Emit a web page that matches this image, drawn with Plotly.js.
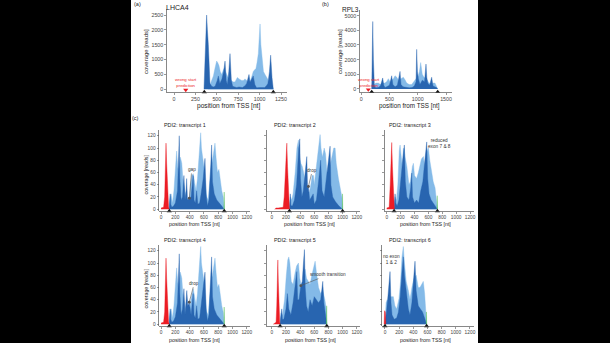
<!DOCTYPE html>
<html><head><meta charset="utf-8">
<script src="https://cdn.plot.ly/plotly-3.0.1.min.js"></script>
<style>html,body{margin:0;padding:0;background:#000;width:610px;height:343px;overflow:hidden}
#chart{position:absolute;left:131px;top:0;width:347px;height:343px;background:#fff}</style>
</head><body><div id="chart"></div>
<script>
// ---------------- data ----------------
// (a) LHCA4
const lhca4_light_x = [400,420,440,460,478,490,498,510,525,540,556,570,584,600,615,640,673,690,712,725,740,760,790,810,829,850,870,887,900,915,926,940,957,970,985,995,1005,1015,1032,1045,1063,1080,1097,1115,1136,1150,1160];
const lhca4_light_y = [0,150,300,450,700,850,950,900,800,600,500,600,700,600,500,350,300,250,250,350,400,350,300,300,350,300,250,200,350,500,600,650,700,900,1200,1700,2200,1500,800,600,500,400,300,250,200,100,0];
const lhca4_dark_x = [350,360,372,381,390,401,420,440,459,480,505,518,535,545,560,580,596,610,623,640,654,670,685,710,732,760,800,830,849,862,876,888,899,912,926,945,965,1000,1040,1058,1080,1097,1115,1129,1145,1160];
const lhca4_dark_y = [0,900,2000,2500,2000,1500,200,100,80,100,300,450,200,250,350,600,950,300,150,600,1200,300,100,80,60,80,60,120,200,350,500,250,300,400,450,150,50,60,50,60,120,200,600,1150,400,0];
const lhca4_marks = [354,1160];
const lhca4_wrong = [137];

// (b) RPL3
const rpl3_light_x = [187,200,234,260,305,340,381,420,450,481,510,540,570,599,630,660,700,746,780,805,850,893,930,952,980,1010,1030,1052,1080,1110,1150,1176,1200,1240,1270,1305,1353];
const rpl3_light_y = [0,300,300,400,400,300,400,400,500,700,500,600,700,900,800,600,700,800,600,400,300,300,500,600,700,900,1200,1800,1000,800,700,500,400,300,400,400,0];
const rpl3_dark_x = [187,193,205,217,234,260,300,340,381,400,422,450,500,540,560,600,640,687,705,740,780,805,850,900,940,970,981,995,1011,1040,1080,1120,1146,1160,1176,1210,1246,1270,1305,1330,1353];
const rpl3_dark_y = [0,3000,4600,2000,200,80,100,200,750,250,100,150,250,900,300,150,250,1200,300,150,120,100,80,100,200,500,2700,1200,700,300,600,500,1700,800,400,250,800,200,150,100,0];
const rpl3_marks = [187,1353];
const rpl3_wrong = [127];

// (c) PDI2 transcript 1
const t1_red_x = [0,15,35,50,60,69,78,90,105,115];
const t1_red_y = [2,3,3,20,70,108,75,30,4,0];
const t1_dark_x = [112,120,128,136,150,175,200,230,245,255,263,280,300,320,335,350,358,370,395,420,450,462,480,498,515,540,560,590,615,630,650,670,695,708,720,745,780,810,850,885];
const t1_dark_y = [0,18,25,8,3,5,10,30,90,120,50,15,20,55,15,30,50,15,18,20,55,15,10,30,8,10,25,50,83,25,5,15,70,105,45,25,15,10,5,0];
const t1_light_x = [112,125,140,160,180,200,218,232,245,270,290,305,330,350,380,395,410,430,450,470,490,510,530,545,555,565,580,600,620,640,660,680,700,720,740,755,770,790,810,830,850,870,885];
const t1_light_y = [0,20,25,10,30,70,95,70,60,85,75,50,35,20,15,10,40,55,58,45,30,50,90,110,125,100,90,70,45,20,15,50,70,80,95,108,85,60,65,45,30,20,0];
const t1_green_x = [880,884,887];
const t1_green_y = [0,28,0];
const t1_marks = [115,885];

// transcript 2
const t2_red_x = [40,60,90,130,160,175,195,212,222,235,248,255];
const t2_red_y = [0,2,2,3,3,20,70,108,70,20,3,0];
const t2_dark_x = [248,255,262,270,290,320,350,380,395,405,425,445,470,494,505,517,535,560,585,600,630,660,690,710,740,780,810,823,835,860,900,950,1000];
const t2_dark_y = [0,20,25,6,5,15,40,100,115,50,20,30,55,86,35,37,15,20,25,8,15,45,80,30,20,60,90,103,40,20,12,5,0];
const t2_light_x = [248,262,280,300,330,355,376,390,410,430,450,470,490,520,545,570,588,600,620,650,665,682,695,715,740,760,780,800,820,850,875,894,910,941,970,990,1000];
const t2_light_y = [0,20,15,25,60,100,113,85,75,70,60,40,30,25,35,55,55,40,60,100,115,122,100,85,100,90,60,50,70,90,100,100,75,50,30,20,0];
const t2_green_x = [995,999,1002];
const t2_green_y = [0,25,0];
const t2_marks = [249,1000];

// transcript 3
const t3_red_x = [0,20,35,50,62,72,82,95,105,110];
const t3_red_y = [2,3,3,40,90,109,70,20,3,0];
const t3_dark_x = [105,112,120,130,150,175,200,230,254,268,290,320,345,360,372,400,430,460,490,520,545,565,576,590,610,640,680,710,730];
const t3_dark_y = [0,15,25,10,5,15,40,80,105,45,20,15,35,59,20,10,15,10,30,45,75,100,110,50,25,15,8,5,0];
const t3_light_x = [105,120,140,160,180,192,205,225,240,252,265,290,320,340,370,384,400,430,456,480,500,528,545,565,590,600,620,648,670,696,715,730];
const t3_light_y = [0,20,15,40,95,105,90,70,100,98,85,70,40,45,70,75,55,50,60,75,82,86,70,90,100,100,80,60,45,35,20,0];
const t3_green_x = [724,728,731];
const t3_green_y = [0,22,0];
const t3_marks = [106,730];

// transcript 4
const t4_red_x = [0,15,35,50,60,69,78,90,105,115];
const t4_red_y = [2,3,3,20,70,108,75,30,4,0];
const t4_dark_x = [112,120,128,136,150,175,200,230,245,255,263,280,300,320,335,350,360,375,395,420,450,462,480,498,515,540,560,590,615,630,650,670,695,708,720,745,780,810,850,885];
const t4_dark_y = [0,18,25,8,3,5,12,35,95,115,50,15,25,58,15,35,55,30,36,15,50,15,10,30,8,10,28,55,85,25,5,15,70,110,45,25,15,10,5,0];
const t4_light_x = [112,125,140,160,180,200,218,232,245,270,290,305,330,350,380,395,410,430,450,470,490,510,530,545,555,565,580,600,620,640,660,680,700,720,740,755,770,790,810,830,850,870,885];
const t4_light_y = [0,20,25,10,30,70,92,70,60,85,75,50,35,20,15,10,35,50,58,45,30,50,90,112,127,100,90,70,45,20,15,50,70,80,95,108,85,60,65,45,30,20,0];
const t4_green_x = [880,884,887];
const t4_green_y = [0,28,0];
const t4_marks = [115,885];

// transcript 5
const t5_red_x = [20,40,60,70,78,85,92,102,112,118];
const t5_red_y = [0,2,3,30,80,105,70,20,3,0];
const t5_dark_x = [115,125,140,150,170,200,220,240,270,300,330,353,365,385,410,430,450,461,472,490,515,540,570,600,630,659,690,710,720,735,760,777];
const t5_dark_y = [0,15,25,8,8,25,50,25,15,35,60,86,40,40,63,70,105,122,60,30,20,40,30,45,40,35,40,55,70,35,10,0];
const t5_light_x = [115,130,150,180,205,225,240,255,275,300,330,350,376,395,420,445,470,490,517,540,565,590,612,630,660,690,720,750,770,777];
const t5_light_y = [0,18,15,40,80,105,110,100,70,65,85,95,100,75,60,70,90,75,70,65,80,95,103,85,60,50,55,40,25,0];
const t5_green_x = [771,775,778];
const t5_green_y = [0,30,0];
const t5_marks = [117,777];

// transcript 6
const t6_red_x = [-12,-6,4,12];
const t6_red_y = [0,22,20,0];
const t6_dark_x = [0,10,25,45,60,71,85,100,130,165,190,215,240,259,275,306,330,353,380,405,424,440,470,500,530,560,588];
const t6_dark_y = [0,15,25,50,75,86,35,15,8,10,20,45,85,110,80,50,25,15,35,75,103,55,30,25,20,10,0];
const t6_light_x = [0,15,30,50,70,95,118,140,165,198,220,240,259,275,300,330,353,380,410,440,470,494,520,541,560,575,588];
const t6_light_y = [0,35,40,35,45,45,45,30,25,42,70,110,127,100,70,55,40,60,75,80,60,60,65,70,50,30,0];
const t6_green_x = [582,586,589];
const t6_green_y = [0,20,0];
const t6_marks = [0,588];

const xticks_a = [0,250,500,750,1000,1250];
const yticks_a = [0,500,1000,1500,2000,2500];
const xticks_b = [0,500,1000,1500];
const yticks_b = [0,1000,2000,3000,4000,5000];
const xticks_c = [0,200,400,600,800,1000,1200];
const yticks_c = [0,20,40,60,80,100,120];

// ---------------- styling ----------------
const FONT = 'Liberation Sans, Arial, sans-serif';
const DARK = '#2865b0', LIGHT = '#84bae8', RED = '#ec1c24', GREEN = '#5cc060';
const W0 = 131, W = 347, H = 343;
const pxX = p => (p - W0) / W;
const pxY = p => 1 - p / H;

const panels = [
  {xr:[-82,1320], xd:[167,287], yr:[-90,2700], yd:[92,9.1], xt:xticks_a, yt:yticks_a, lab:true, fs:5.3},
  {xr:[-20,1600], xd:[360,451.7], yr:[-200,5400], yd:[91.9,9.8], xt:xticks_b, yt:yticks_b, lab:true, fs:5.3},
  {xr:[-25,1240], xd:[159.3,249.6], yr:[-3,130], yd:[211,129.7], xt:xticks_c, yt:yticks_c, lab:true, fs:4.8},
  {xr:[-75,1250], xd:[266.5,360.3], yr:[-3,130], yd:[211,129.7], xt:xticks_c, yt:yticks_c, lab:false, fs:4.8},
  {xr:[-25,1260], xd:[385,474.2], yr:[-3,130], yd:[211,129.7], xt:xticks_c, yt:yticks_c, lab:false, fs:4.8},
  {xr:[-25,1240], xd:[159.3,249.6], yr:[-3,130], yd:[326,244.7], xt:xticks_c, yt:yticks_c, lab:true, fs:4.8},
  {xr:[-75,1250], xd:[266.5,360.3], yr:[-3,130], yd:[326,244.7], xt:xticks_c, yt:yticks_c, lab:false, fs:4.8},
  {xr:[-38,1260], xd:[382.3,474.2], yr:[-3,130], yd:[326,244.7], xt:xticks_c, yt:yticks_c, lab:false, fs:4.8}
];

const layout = {
  width: W, height: H, margin:{l:0,r:0,t:0,b:0},
  paper_bgcolor:'#ffffff', plot_bgcolor:'rgba(0,0,0,0)',
  showlegend:false, font:{family:FONT, color:'#333'},
  annotations:[]
};
panels.forEach((p,i) => {
  const n = i === 0 ? '' : String(i+1);
  layout['xaxis'+n] = {range:p.xr, domain:[pxX(p.xd[0]), pxX(p.xd[1])], anchor:'y'+n,
    tickvals:p.xt, showline:true, linecolor:'#555', linewidth:0.7, ticks:'outside', ticklen:2,
    tickwidth:0.6, tickcolor:'#555', tickfont:{size:p.fs, color:'#444', family:FONT},
    showgrid:false, zeroline:false, fixedrange:true};
  layout['yaxis'+n] = {range:p.yr, domain:[pxY(p.yd[0]), pxY(p.yd[1])], anchor:'x'+n,
    tickvals:p.yt, showticklabels:p.lab, showline:true, linecolor:'#555', linewidth:0.7, ticks:'outside', ticklen:2,
    tickwidth:0.6, tickcolor:'#555', tickfont:{size:p.fs, color:'#444', family:FONT},
    showgrid:false, zeroline:false, fixedrange:true};
});

const traces = [];
function area(xs, ys, color, i) {
  const n = i === 0 ? '' : String(i+1);
  traces.push({type:'scatter', mode:'lines', x:xs, y:ys, fill:'tozeroy', fillcolor:color,
    line:{color:color, width:0.4}, xaxis:'x'+n, yaxis:'y'+n, hoverinfo:'skip'});
}
function marks(xs, i, symbol, color, yv) {
  const n = i === 0 ? '' : String(i+1);
  traces.push({type:'scatter', mode:'markers', x:xs, y:xs.map(() => yv), cliponaxis:false,
    marker:{symbol:symbol, size:4.5, color:color, line:{width:0}}, xaxis:'x'+n, yaxis:'y'+n, hoverinfo:'skip'});
}

// (a)
area(lhca4_light_x, lhca4_light_y, LIGHT, 0);
area(lhca4_dark_x, lhca4_dark_y, DARK, 0);
marks(lhca4_marks, 0, 'triangle-up', '#111', panels[0].yr[0]);
marks(lhca4_wrong, 0, 'triangle-down', RED, -20);
// (b)
area(rpl3_light_x, rpl3_light_y, LIGHT, 1);
area(rpl3_dark_x, rpl3_dark_y, DARK, 1);
marks(rpl3_marks, 1, 'triangle-up', '#111', panels[1].yr[0]);
marks(rpl3_wrong, 1, 'triangle-down', RED, -40);
// (c)
const tr = [
  [t1_light_x,t1_light_y,t1_dark_x,t1_dark_y,t1_red_x,t1_red_y,t1_green_x,t1_green_y,t1_marks],
  [t2_light_x,t2_light_y,t2_dark_x,t2_dark_y,t2_red_x,t2_red_y,t2_green_x,t2_green_y,t2_marks],
  [t3_light_x,t3_light_y,t3_dark_x,t3_dark_y,t3_red_x,t3_red_y,t3_green_x,t3_green_y,t3_marks],
  [t4_light_x,t4_light_y,t4_dark_x,t4_dark_y,t4_red_x,t4_red_y,t4_green_x,t4_green_y,t4_marks],
  [t5_light_x,t5_light_y,t5_dark_x,t5_dark_y,t5_red_x,t5_red_y,t5_green_x,t5_green_y,t5_marks],
  [t6_light_x,t6_light_y,t6_dark_x,t6_dark_y,t6_red_x,t6_red_y,t6_green_x,t6_green_y,t6_marks]
];
tr.forEach((d,k) => {
  const i = k + 2;
  area(d[0], d[1], LIGHT, i);
  area(d[2], d[3], DARK, i);
  area(d[4], d[5], RED, i);
  area(d[6], d[7], GREEN, i);
  marks(d[8], i, 'triangle-up', '#111', panels[i].yr[0]);
});

// ---------------- text ----------------
const A = layout.annotations;
function ptext(text, x, y, size, opts) {
  A.push(Object.assign({xref:'paper', yref:'paper', x:pxX(x), y:pxY(y), text:text, showarrow:false,
    xanchor:'center', yanchor:'middle', font:{size:size, color:'#222', family:FONT}}, opts || {}));
}
ptext('(a)', 137, 3.5, 5.5);
ptext('(b)', 325.5, 3.5, 5.5);
ptext('(c)', 135.5, 117.5, 5.5);
ptext('LHCA4', 177, 7.5, 7);
ptext('RPL3', 350, 10, 6.5);
ptext('coverage [reads]', 146, 52, 6, {textangle:-90});
ptext('coverage [reads]', 340, 52, 6, {textangle:-90});
ptext('position from TSS [nt]', 228, 106, 6.6);
ptext('position from TSS [nt]', 409.5, 106, 6.3);
const titles = [['PDI2: transcript 1',162,125],['PDI2: transcript 2',272.3,125],['PDI2: transcript 3',386.7,125],
                ['PDI2: transcript 4',162.3,240],['PDI2: transcript 5',272.3,240],['PDI2: transcript 6',386.7,240]];
titles.forEach(t => ptext(t[0], t[1], t[2], 5.4, {xanchor:'left'}));
[[195,223.5],[310,223.5],[425,223.5],[195,339.5],[310.3,339.5],[425,339.5]].forEach(p => ptext('position from TSS [nt]', p[0], p[1], 5.3));
ptext('coverage [reads]', 145.5, 175, 5.3, {textangle:-90});
ptext('coverage [reads]', 145.5, 289, 5.3, {textangle:-90});

function dtext(text, n, x, y, size, color) {
  A.push({xref:'x'+n, yref:'y'+n, x:x, y:y, text:text, showarrow:false, xanchor:'center', yanchor:'middle',
    font:{size:size, color:color, family:FONT}});
}
dtext('wrong start<br>prediction', '', 137, 222, 4.3, RED);
dtext('wrong start<br>prediction', '2', 134, 430, 4.3, RED);
dtext('reduced<br>exon 7 &amp; 8', '5', 760, 108, 4.7, '#333');
dtext('no exon<br>1 &amp; 2', '8', 95, 105, 4.7, '#333');

function arrowText(text, n, x, y, tx, ty) {
  A.push({xref:'x'+n, yref:'y'+n, x:x, y:y, axref:'x'+n, ayref:'y'+n, ax:tx, ay:ty, text:text,
    showarrow:true, arrowhead:6, arrowsize:1.2, arrowwidth:0.6, arrowcolor:'#555', standoff:0,
    font:{size:4.7, color:'#333', family:FONT}});
}
arrowText('gap', '3', 396, 18, 430, 65);
arrowText('drop', '4', 517, 37, 574, 64);
arrowText('drop', '6', 395, 36, 465, 67);
arrowText('smooth transition', '7', 410, 63, 800, 81);

Plotly.newPlot('chart', traces, layout, {staticPlot:true, displayModeBar:false});
</script></body></html>
